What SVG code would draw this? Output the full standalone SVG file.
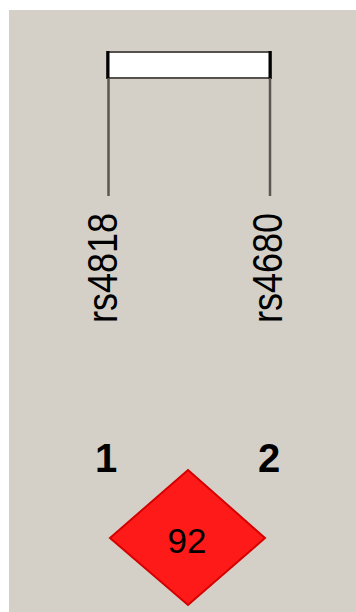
<svg xmlns="http://www.w3.org/2000/svg" width="356" height="612" viewBox="0 0 356 612">
<style>
.lbl{font-family:"Liberation Sans",Arial,sans-serif;fill:#000}
.conn{stroke:#5a5650;stroke-width:2.5;fill:none}
</style>
<rect x="0" y="0" width="356" height="612" fill="#ffffff"/>
<rect x="9" y="10" width="347" height="602" fill="#d4d0c8"/>
<g id="block">
<rect x="107" y="52" width="164" height="26" fill="#ffffff" stroke="#55524d" stroke-width="2"/>
<line x1="108" y1="51" x2="108" y2="79" stroke="#000" stroke-width="3"/>
<line x1="270" y1="51" x2="270" y2="79" stroke="#000" stroke-width="3"/>
</g>
<g id="connectors">
<line class="conn" x1="108.5" y1="78" x2="108.5" y2="196"/>
<line class="conn" x1="270" y1="78" x2="270" y2="196"/>
</g>
<g id="marker1">
<text class="lbl" transform="translate(117,323) rotate(-90) scale(1,1.2)" font-size="36">rs4818</text>
</g>
<g id="marker2">
<text class="lbl" transform="translate(282,323) rotate(-90) scale(1,1.2)" font-size="36">rs4680</text>
</g>
<g id="num1">
<text class="lbl" x="106" y="472" font-size="40" font-weight="bold" text-anchor="middle">1</text>
</g>
<g id="num2">
<text class="lbl" x="269" y="472" font-size="40" font-weight="bold" text-anchor="middle">2</text>
</g>
<g id="ld">
<polygon points="188,470 265,538 188,605 110,538" fill="#ff1a1a" stroke="#d40000" stroke-width="2"/>
<text class="lbl" x="187" y="553" font-size="35" text-anchor="middle">92</text>
</g>
</svg>
